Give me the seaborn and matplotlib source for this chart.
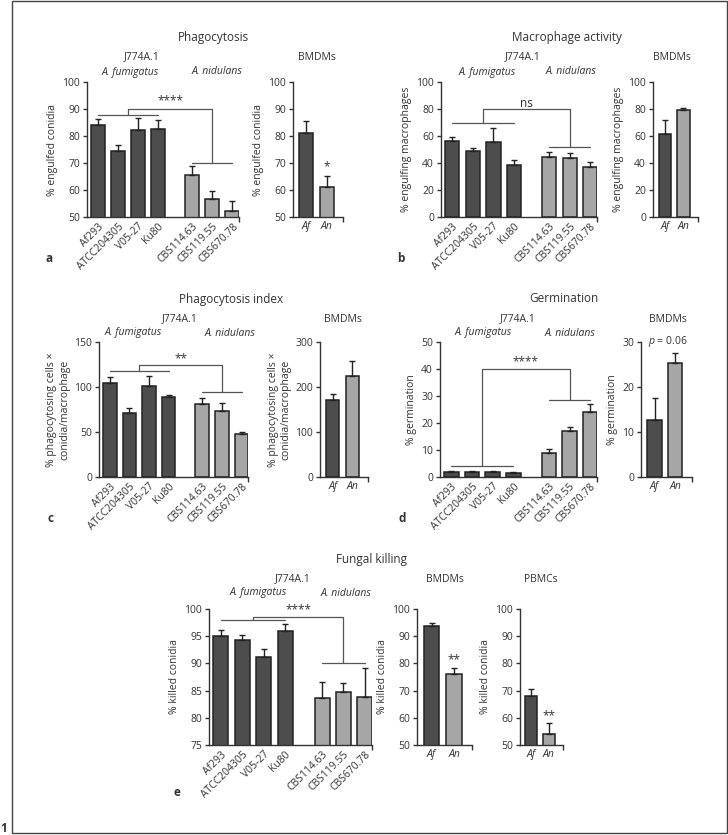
import numpy as np
import pandas as pd
import seaborn as sns
import matplotlib.pyplot as plt
from matplotlib.patches import Rectangle

# ---- data ----
strains = ["Af293", "ATCC204305", "V05-27", "Ku80", "CBS114.63", "CBS119.55", "CBS670.78"]
species = ["A. fumigatus"] * 4 + ["A. nidulans"] * 3
pair_labels = ["Af", "An"]

# a: Phagocytosis
phago_j774 = [84.0, 74.6, 82.2, 82.5, 65.7, 56.8, 52.1]
phago_j774_err = [2.4, 1.9, 4.6, 3.5, 3.1, 3.0, 3.8]
phago_bmdm = [81.1, 61.1]
phago_bmdm_err = [4.5, 4.1]

# b: Macrophage activity
activ_j774 = [56.3, 48.6, 55.8, 38.8, 44.4, 43.7, 37.0]
activ_j774_err = [3.0, 2.8, 10.1, 3.2, 3.7, 3.7, 3.7]
activ_bmdm = [61.2, 79.0]
activ_bmdm_err = [10.9, 1.7]

# c: Phagocytosis index
index_j774 = [104.4, 71.1, 101.5, 88.9, 81.5, 73.0, 48.1]
index_j774_err = [6.6, 5.6, 10.4, 2.6, 6.6, 9.6, 2.3]
index_bmdm = [170.4, 225.0]
index_bmdm_err = [14.6, 33.0]

# d: Germination
germ_j774 = [1.7, 1.7, 1.7, 1.4, 9.0, 17.0, 24.1]
germ_j774_err = [0.6, 0.6, 0.6, 0.3, 1.5, 1.5, 3.1]
germ_bmdm = [12.7, 25.4]
germ_bmdm_err = [4.9, 2.2]

# e: Fungal killing
kill_j774 = [95.1, 94.3, 91.2, 96.0, 83.6, 84.8, 83.8]
kill_j774_err = [1.0, 1.0, 1.4, 1.2, 3.0, 1.6, 5.4]
kill_bmdm = [93.6, 76.0]
kill_bmdm_err = [1.1, 2.3]
kill_pbmc = [68.0, 54.1]
kill_pbmc_err = [2.7, 3.9]

DARK = "#4d4d4d"
LIGHT = "#a6a6a6"
EDGE = "#222222"
TXT = "#333333"

sns.set_style("ticks")
plt.rcParams["font.family"] = ["Open Sans", "DejaVu Sans"]
plt.rcParams["mathtext.fontset"] = "custom"
plt.rcParams["mathtext.it"] = "Open Sans:italic"
plt.rcParams["mathtext.rm"] = "Open Sans"
plt.rcParams["text.color"] = TXT
plt.rcParams["axes.labelcolor"] = TXT
plt.rcParams["xtick.color"] = TXT
plt.rcParams["ytick.color"] = TXT

W, H = 728, 835
fig = plt.figure(figsize=(W / 100, H / 100), dpi=100)


def box(x0, x1, y0, y1):
    return [x0 / W, 1 - y1 / H, (x1 - x0) / W, (y1 - y0) / H]


def ftext(x, y, s, **kw):
    kw.setdefault("ha", "center")
    kw.setdefault("va", "center")
    fig.text(x / W, 1 - y / H, s, **kw)


# bar positions: a gap between the two species groups
GAP = 0.72
positions = []
for i, sp in enumerate(species):
    positions.append(i + (GAP if sp == "A. nidulans" else 0))
positions = np.array(positions)


def style_axis(ax, ylim, yticks, ylabel, xmax):
    ax.set_ylim(*ylim)
    ax.set_yticks(yticks)
    ax.set_ylabel(ylabel, fontsize=7.5, labelpad=3)
    sns.despine(ax=ax)
    for s in ["left", "bottom"]:
        ax.spines[s].set_color(TXT)
        ax.spines[s].set_linewidth(1.0)
    ax.tick_params(axis="y", labelsize=7.5, length=3, width=1, pad=2)
    ax.tick_params(axis="x", which="major", length=0, pad=3)
    ax.set_xticks([xmax], minor=True)
    ax.tick_params(axis="x", which="minor", length=3.5, width=1)


def strain_panel(rect, vals, errs, ylim, yticks, ylabel, sig):
    ax = fig.add_axes(box(*rect))
    df = pd.DataFrame({"pos": positions, "val": vals, "species": species})
    sns.barplot(data=df, x="pos", y="val", hue="species", native_scale=True,
                palette={"A. fumigatus": DARK, "A. nidulans": LIGHT},
                width=0.7, dodge=False, edgecolor=EDGE, linewidth=1.1,
                errorbar=None, legend=False, ax=ax)
    ax.errorbar(positions, vals, yerr=[np.zeros(len(vals)), errs], fmt="none",
                ecolor=EDGE, elinewidth=1, capsize=2.5, capthick=1, zorder=5)
    xmax = positions[-1] + 0.33
    ax.set_xlim(-0.55, xmax)
    style_axis(ax, ylim, yticks, ylabel, xmax)
    ax.set_xticks(positions)
    ax.set_xticklabels(strains, rotation=45, ha="right", rotation_mode="anchor", fontsize=7.5)
    ax.set_xlabel("")
    # significance bracket between the groups
    ly, top, ry, ty, label = sig
    lc = "#555555"
    kw = dict(color=lc, lw=0.9, clip_on=False, zorder=6)
    ax.plot([positions[0], positions[3]], [ly, ly], **kw)
    ax.plot([positions[4], positions[6]], [ry, ry], **kw)
    ax.plot([1.5, 1.5, positions[5], positions[5]], [ly, top, top, ry], **kw)
    ax.text((1.5 + positions[5]) / 2, ty, label, ha="center", va="center",
            fontsize=8.5, clip_on=False)
    return ax


def pair_panel(rect, vals, errs, ylim, yticks, ylabel, star=None):
    ax = fig.add_axes(box(*rect))
    df = pd.DataFrame({"cell": pair_labels, "val": vals})
    sns.barplot(data=df, x="cell", y="val", hue="cell", palette=[DARK, LIGHT],
                width=0.68, edgecolor=EDGE, linewidth=1.1, errorbar=None,
                legend=False, ax=ax)
    ax.errorbar([0, 1], vals, yerr=[np.zeros(2), errs], fmt="none",
                ecolor=EDGE, elinewidth=1, capsize=2.5, capthick=1, zorder=5)
    xmax = 1.8
    ax.set_xlim(-0.65, xmax)
    style_axis(ax, ylim, yticks, ylabel, xmax)
    ax.set_xticks([0, 1])
    ax.set_xticklabels(pair_labels, fontsize=7.5, style="italic")
    ax.set_xlabel("")
    if star is not None:
        ax.text(1, star[0], star[1], ha="center", va="center", fontsize=8.5)
    return ax


# ---- a ----
strain_panel((87, 239, 82, 217), phago_j774, phago_j774_err, (50, 100),
             range(50, 101, 10), "% engulfed conidia", (87.9, 90.1, 70.1, 93.0, "****"))
pair_panel((293, 343, 82, 217), phago_bmdm, phago_bmdm_err, (50, 100),
           range(50, 101, 10), "% engulfed conidia", (68.5, "*"))
ftext(213, 38, "Phagocytosis", fontsize=8.5)
ftext(142, 57, "J774A.1", fontsize=7.5)
ftext(317, 57, "BMDMs", fontsize=7.5)
ftext(130, 72, "A. fumigatus", fontsize=7.5, style="italic")
ftext(217, 72, "A. nidulans", fontsize=7.5, style="italic")
ftext(49, 258, "a", fontsize=8.5, fontweight="bold")

# ---- b ----
strain_panel((441, 597, 82, 217), activ_j774, activ_j774_err, (0, 100),
             range(0, 101, 20), "% engulfing macrophages", (69.6, 80.2, 51.8, 84.4, "ns"))
pair_panel((653, 698, 82, 217), activ_bmdm, activ_bmdm_err, (0, 100),
           range(0, 101, 20), "% engulfing macrophages")
ftext(567, 38, "Macrophage activity", fontsize=8.5)
ftext(523, 57, "J774A.1", fontsize=7.5)
ftext(672, 57, "BMDMs", fontsize=7.5)
ftext(487, 72, "A. fumigatus", fontsize=7.5, style="italic")
ftext(571, 72, "A. nidulans", fontsize=7.5, style="italic")
ftext(401, 258, "b", fontsize=8.5, fontweight="bold")

# ---- c ----
idx_label = "% phagocytosing cells ×\nconidia/macrophage"
strain_panel((99, 248, 342, 477), index_j774, index_j774_err, (0, 150),
             range(0, 151, 50), idx_label, (117.8, 124.0, 94.4, 131.0, "**"))
pair_panel((320, 368, 342, 477), index_bmdm, index_bmdm_err, (0, 300),
           range(0, 301, 100), idx_label)
ftext(231, 299, "Phagocytosis index", fontsize=8.5)
ftext(180, 319, "J774A.1", fontsize=7.5)
ftext(343, 319, "BMDMs", fontsize=7.5)
ftext(133, 333, "A. fumigatus", fontsize=7.5, style="italic")
ftext(230, 333, "A. nidulans", fontsize=7.5, style="italic")
ftext(50, 518, "c", fontsize=8.5, fontweight="bold")

# ---- d ----
strain_panel((440, 597, 342, 477), germ_j774, germ_j774_err, (0, 50),
             range(0, 51, 10), "% germination", (4.0, 39.9, 28.4, 42.6, "****"))
axd = pair_panel((641, 692, 342, 477), germ_bmdm, germ_bmdm_err, (0, 30),
                 range(0, 31, 10), "% germination")
axd.text(-0.33, 30, "$p$ = 0.06", ha="left", va="center", fontsize=7.5, clip_on=False)
ftext(564, 299, "Germination", fontsize=8.5)
ftext(518, 319, "J774A.1", fontsize=7.5)
ftext(668, 319, "BMDMs", fontsize=7.5)
ftext(483, 333, "A. fumigatus", fontsize=7.5, style="italic")
ftext(570, 333, "A. nidulans", fontsize=7.5, style="italic")
ftext(402, 518, "d", fontsize=8.5, fontweight="bold")

# ---- e ----
strain_panel((209, 372, 609, 745), kill_j774, kill_j774_err, (75, 100),
             range(75, 101, 5), "% killed conidia", (97.9, 98.5, 90.0, 99.9, "****"))
pair_panel((417, 472, 609, 745), kill_bmdm, kill_bmdm_err, (50, 100),
           range(50, 101, 10), "% killed conidia", (81.3, "**"))
pair_panel((520, 563, 609, 745), kill_pbmc, kill_pbmc_err, (50, 100),
           range(50, 101, 10), "% killed conidia", (60.8, "**"))
ftext(372, 559, "Fungal killing", fontsize=8.5)
ftext(293, 579, "J774A.1", fontsize=7.5)
ftext(445, 579, "BMDMs", fontsize=7.5)
ftext(541, 579, "PBMCs", fontsize=7.5)
ftext(258, 593, "A. fumigatus", fontsize=7.5, style="italic")
ftext(346, 593, "A. nidulans", fontsize=7.5, style="italic")
ftext(177, 793, "e", fontsize=8.5, fontweight="bold")

# outer frame and figure number
fig.add_artist(Rectangle((12 / W, 2 / H), (W - 13) / W, (H - 3) / H, fill=False,
                         edgecolor="#444444", lw=1, transform=fig.transFigure))
ftext(4, 829, "1", fontsize=8.5, fontweight="bold")

fig.savefig("out.png", dpi=100)
